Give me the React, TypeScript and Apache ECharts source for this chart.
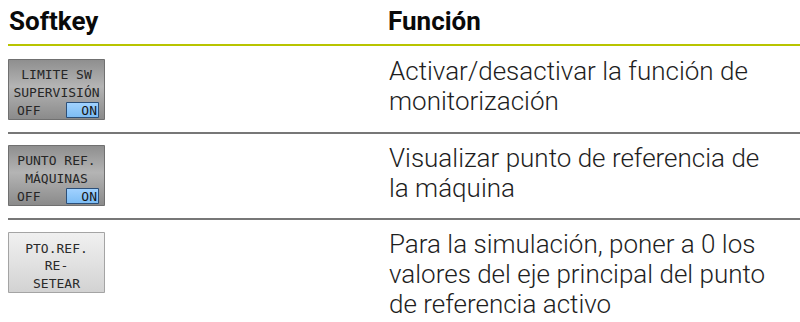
import React, { useEffect, useRef } from "react";
import * as echarts from "echarts";

const headers = ["Softkey", "Función"];
const softkeyLabels = [
  ["LIMITE SW", "SUPERVISIÓN"],
  ["PUNTO REF.", "MÁQUINAS"],
  ["PTO.REF.", "RE-", "SETEAR"],
];
const softkeyToggle = [true, true, false];
const descriptions = [
  ["Activar/desactivar la función de", "monitorización"],
  ["Visualizar punto de referencia de", "la máquina"],
  ["Para la simulación, poner a 0 los", "valores del eje principal del punto", "de referencia activo"],
];

const ROW_SEPS = [133, 219];
const ROW_TOPS = [46, 133, 219];
const BTN_TOPS = [59, 145, 232];
const BTN_X = 8;
const BTN_W = 96;
const BTN_H = 60;
const TEXT_X = 389;
const MONO = "'DejaVu Sans Mono', 'Liberation Mono', monospace";
const SANS = "Roboto, 'Noto Sans', sans-serif";
const LIGHT = "'Roboto Light', Roboto, 'Noto Sans', sans-serif";

function buildGraphics() {
  const els: any[] = [];
  els.push({ type: "rect", shape: { x: 0, y: 0, width: 800, height: 322 }, style: { fill: "#fff" }, silent: true });
  // headers
  els.push({ type: "text", x: 9, y: 21, style: { text: headers[0], font: `bold 26px ${SANS}`, fill: "#0a0a0a", verticalAlign: "middle" } });
  els.push({ type: "text", x: TEXT_X - 1, y: 21, style: { text: headers[1], font: `bold 26px ${SANS}`, fill: "#0a0a0a", verticalAlign: "middle" } });
  // green header line
  els.push({ type: "rect", shape: { x: 8, y: 44, width: 792, height: 2 }, style: { fill: "#b8c400" } });
  // separators
  ROW_SEPS.forEach((y) => {
    els.push({ type: "rect", shape: { x: 8, y: y - 0.75, width: 792, height: 1.5 }, style: { fill: "#4a4a4a" } });
  });
  softkeyLabels.forEach((lines, i) => {
    const T = BTN_TOPS[i];
    const dark = softkeyToggle[i];
    const fill = dark
      ? new echarts.graphic.LinearGradient(0, 0, 0, 1, [
          { offset: 0, color: "#8e8e8e" },
          { offset: 0.45, color: "#b4b4b4" },
          { offset: 1, color: "#8a8a8a" },
        ])
      : new echarts.graphic.LinearGradient(0, 0, 0, 1, [
          { offset: 0, color: "#f0f0f0" },
          { offset: 0.5, color: "#e2e2e2" },
          { offset: 1, color: "#d2d2d2" },
        ]);
    els.push({
      type: "rect",
      shape: { x: BTN_X + 0.5, y: T + 0.5, width: BTN_W, height: BTN_H },
      style: { fill, stroke: dark ? "#707070" : "#a4a4a4", lineWidth: 1 },
    });
    const cx = BTN_X + BTN_W / 2 + 0.5;
    const f = `13px ${MONO}`;
    if (dark) {
      lines.forEach((ln, j) => {
        els.push({ type: "text", x: cx, y: T + 15 + j * 18, style: { text: ln, font: f, fill: "#262626", align: "center", verticalAlign: "middle" } });
      });
      els.push({ type: "text", x: 17, y: T + 51, style: { text: "OFF", font: f, fill: "#262626", align: "left", verticalAlign: "middle" } });
      els.push({
        type: "rect",
        shape: { x: 66.5, y: T + 43.5, width: 32, height: 15 },
        style: {
          fill: new echarts.graphic.LinearGradient(0, 0, 0, 1, [
            { offset: 0, color: "#a2d2ff" },
            { offset: 1, color: "#7cbcf4" },
          ]),
          stroke: "#2c4f78",
          lineWidth: 1,
        },
      });
      els.push({ type: "text", x: 97, y: T + 51, style: { text: "ON", font: f, fill: "#161616", align: "right", verticalAlign: "middle" } });
    } else {
      lines.forEach((ln, j) => {
        els.push({ type: "text", x: cx, y: T + 16 + j * 17.5, style: { text: ln, font: f, fill: "#2a2a2a", align: "center", verticalAlign: "middle" } });
      });
    }
  });
  descriptions.forEach((lines, i) => {
    const base = ROW_TOPS[i] + 34;
    lines.forEach((ln, j) => {
      els.push({ type: "text", x: TEXT_X, y: base - 9 + j * 30, style: { text: ln, font: `300 26px ${LIGHT}`, fill: "#1e1e1e", verticalAlign: "middle" } });
    });
  });
  return els;
}

export default function App() {
  const ref = useRef<HTMLDivElement>(null);
  useEffect(() => {
    if (!ref.current) return;
    const chart = echarts.init(ref.current, null, { renderer: "svg" });
    chart.setOption({ animation: false, graphic: { elements: buildGraphics() } });
    return () => chart.dispose();
  }, []);
  return <div ref={ref} style={{ position: "fixed", left: 0, top: 0, width: 800, height: 322, background: "#fff" }} />;
}
